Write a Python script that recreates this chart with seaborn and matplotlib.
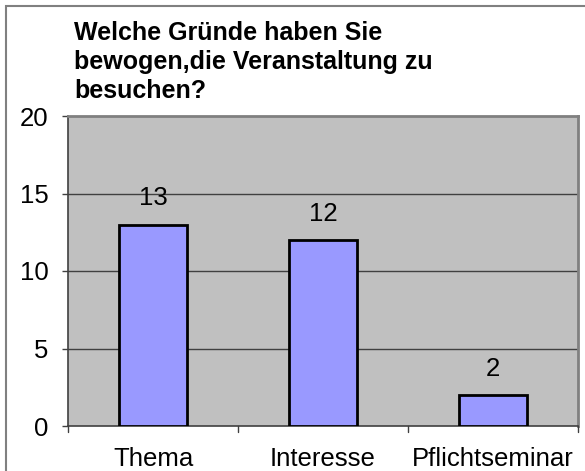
import matplotlib
matplotlib.use("Agg")
import matplotlib.pyplot as plt
import seaborn as sns
import pandas as pd
from matplotlib.patches import Rectangle

categories = ["Thema", "Interesse", "Pflichtseminar"]
values = [13, 12, 2]
yticks = [0, 5, 10, 15, 20]
title = "Welche Gründe haben Sie\nbewogen,die Veranstaltung zu\nbesuchen?"

sns.set_style("white")
plt.rcParams['font.family'] = ['Liberation Sans', 'DejaVu Sans']
plt.rcParams['text.color'] = 'black'
plt.rcParams['xtick.labelcolor'] = 'black'
plt.rcParams['ytick.labelcolor'] = 'black'

W, H = 585, 471
fig = plt.figure(figsize=(W/100, H/100), dpi=100)
ax = fig.add_axes([68/W, 1-426/H, (578-68)/W, (426-116)/H])
ax.set_facecolor("#C0C0C0")

df = pd.DataFrame({"cat": categories, "val": values})
sns.barplot(data=df, x="cat", y="val", color="#9999FF", width=0.4,
            edgecolor="black", linewidth=2, saturation=1, ax=ax, zorder=3)

FS = 18.5
ax.set_ylim(0, 20)
ax.set_xlim(-0.5, len(categories)-0.5)
ax.set_yticks(yticks)
ax.set_yticklabels([str(t) for t in yticks], fontsize=FS, color="black")
for t in yticks[1:-1]:
    ax.axhline(t, color="#404040", lw=1, zorder=1)

ax.set_xticks(range(len(categories)))
ax.set_xticklabels(categories, fontsize=FS, color="black")
ax.tick_params(axis='x', length=0, pad=15)
ax.tick_params(axis='y', length=4, width=1, color="#404040", pad=10, left=True)
# category boundary ticks
for b in [-0.5, 0.5, 1.5, 2.5]:
    ax.plot([b, b], [0, -0.4], color="#404040", lw=1, clip_on=False, zorder=4)

ax.set_xlabel("")
ax.set_ylabel("")
for s in ["top", "right"]:
    ax.spines[s].set_color("#808080")
    ax.spines[s].set_linewidth(2)
ax.spines["left"].set_color("#404040")
ax.spines["left"].set_linewidth(1.2)
ax.spines["bottom"].set_color("#404040")
ax.spines["bottom"].set_linewidth(1.2)

for i, v in enumerate(values):
    ax.annotate(str(v), (i, v), xytext=(0, 19), textcoords="offset points",
                ha="center", va="center", fontsize=FS, color="black")

fig.text(74/W, 1-21/H, title, ha="left", va="top", fontsize=18,
         fontweight="bold", linespacing=1.27, color="black")

fig.patches.append(Rectangle((6/W, -0.1), 1.2, 1-6/H+0.1, transform=fig.transFigure,
                             fill=False, edgecolor="#808080", lw=1.5))

fig.savefig("out.png", dpi=100)
